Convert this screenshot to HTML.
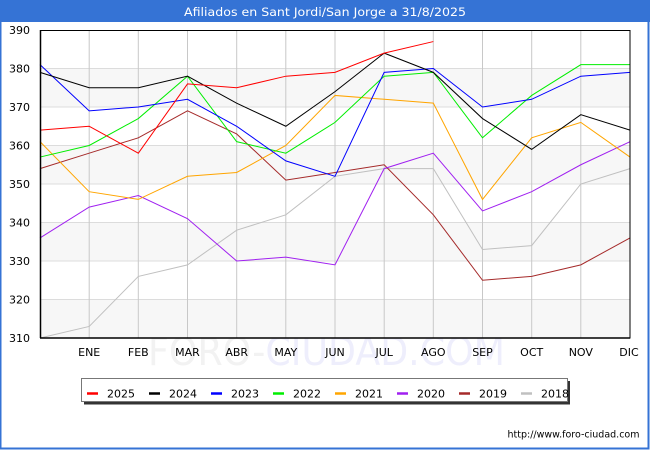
<!DOCTYPE html>
<html><head><meta charset="utf-8"><style>
html,body{margin:0;padding:0;background:#fff;}
svg{display:block;}
text{font-family:"DejaVu Sans","Liberation Sans",sans-serif;}
</style></head><body>
<svg width="650" height="450" viewBox="0 0 650 450" xmlns="http://www.w3.org/2000/svg">
<rect x="0" y="0" width="650" height="450" fill="#fff"/>
<!-- frame -->
<rect x="0.5" y="0.5" width="648" height="448" fill="none" stroke="#3573d5" stroke-width="2"/>
<rect x="0" y="0" width="650" height="22" fill="#3573d5"/>
<text x="325" y="16" text-anchor="middle" font-size="11.5" fill="#fff" textLength="282" lengthAdjust="spacingAndGlyphs">Afiliados en Sant Jordi/San Jorge a 31/8/2025</text>

<!-- watermark -->
<text x="148" y="365" font-size="39" textLength="357" lengthAdjust="spacingAndGlyphs"><tspan fill="#f2f2f2">FORO-</tspan><tspan fill="#eeeefc">CIUDAD.COM</tspan></text>

<!-- bands -->
<rect x="40" y="68.5" width="590" height="38.5" fill="#f7f7f7"/>
<rect x="40" y="145.5" width="590" height="38.5" fill="#f7f7f7"/>
<rect x="40" y="222.5" width="590" height="38.5" fill="#f7f7f7"/>
<rect x="40" y="299.5" width="590" height="38.5" fill="#f7f7f7"/>
<!-- horizontal grid -->
<g stroke="#dcdcdc" stroke-width="1">
<line x1="40" y1="68.5" x2="630" y2="68.5"/>
<line x1="40" y1="107" x2="630" y2="107"/>
<line x1="40" y1="145.5" x2="630" y2="145.5"/>
<line x1="40" y1="184" x2="630" y2="184"/>
<line x1="40" y1="222.5" x2="630" y2="222.5"/>
<line x1="40" y1="261" x2="630" y2="261"/>
<line x1="40" y1="299.5" x2="630" y2="299.5"/>
</g>
<!-- vertical grid -->
<g stroke="#c8c8c8" stroke-width="1">
<line x1="89.2" y1="30" x2="89.2" y2="338"/>
<line x1="138.3" y1="30" x2="138.3" y2="338"/>
<line x1="187.5" y1="30" x2="187.5" y2="338"/>
<line x1="236.7" y1="30" x2="236.7" y2="338"/>
<line x1="285.8" y1="30" x2="285.8" y2="338"/>
<line x1="335" y1="30" x2="335" y2="338"/>
<line x1="384.2" y1="30" x2="384.2" y2="338"/>
<line x1="433.3" y1="30" x2="433.3" y2="338"/>
<line x1="482.5" y1="30" x2="482.5" y2="338"/>
<line x1="531.7" y1="30" x2="531.7" y2="338"/>
<line x1="580.8" y1="30" x2="580.8" y2="338"/>
</g>

<!-- series: data coords (i, value) -->
<g transform="matrix(49.1667 0 0 -3.85 40 1531.5)" fill="none" stroke-width="1">
<polyline vector-effect="non-scaling-stroke" stroke="#c0c0c0" points="0,310 1,313 2,326 3,329 4,338 5,342 6,352 7,354 8,354 9,333 10,334 11,350 12,354"/>
<polyline vector-effect="non-scaling-stroke" stroke="#a52a2a" points="0,354 1,358 2,362 3,369 4,363 5,351 6,353 7,355 8,342 9,325 10,326 11,329 12,336"/>
<polyline vector-effect="non-scaling-stroke" stroke="#a020f0" points="0,336 1,344 2,347 3,341 4,330 5,331 6,329 7,354 8,358 9,343 10,348 11,355 12,361"/>
<polyline vector-effect="non-scaling-stroke" stroke="#ffa500" points="0,361 1,348 2,346 3,352 4,353 5,360 6,373 7,372 8,371 9,346 10,362 11,366 12,357"/>
<polyline vector-effect="non-scaling-stroke" stroke="#00ee00" points="0,357 1,360 2,367 3,378 4,361 5,358 6,366 7,378 8,379 9,362 10,373 11,381 12,381"/>
<polyline vector-effect="non-scaling-stroke" stroke="#0000ff" points="0,381 1,369 2,370 3,372 4,365 5,356 6,352 7,379 8,380 9,370 10,372 11,378 12,379"/>
<polyline vector-effect="non-scaling-stroke" stroke="#000000" points="0,379 1,375 2,375 3,378 4,371 5,365 6,374 7,384 8,379 9,367 10,359 11,368 12,364"/>
<polyline vector-effect="non-scaling-stroke" stroke="#ff0000" points="0,364 1,365 2,358 3,376 4,375 5,378 6,379 7,384 8,387"/>
</g>

<!-- plot border -->
<rect x="40.5" y="30.5" width="589.5" height="307.5" fill="none" stroke="#000" stroke-width="1"/>
<line x1="40" y1="338" x2="630" y2="338" stroke="#000" stroke-width="1.5"/>
<line x1="40.5" y1="30" x2="40.5" y2="338" stroke="#000" stroke-width="1.5"/>

<!-- y labels -->
<g font-size="11" fill="#000" text-anchor="end">
<text x="30" y="34">390</text>
<text x="30" y="72.5">380</text>
<text x="30" y="111">370</text>
<text x="30" y="149.5">360</text>
<text x="30" y="188">350</text>
<text x="30" y="226.5">340</text>
<text x="30" y="265">330</text>
<text x="30" y="303.5">320</text>
<text x="30" y="342">310</text>
</g>
<!-- x labels -->
<g font-size="11" fill="#000" text-anchor="middle">
<text x="89.2" y="356">ENE</text>
<text x="138.3" y="356">FEB</text>
<text x="187.5" y="356">MAR</text>
<text x="236.7" y="356">ABR</text>
<text x="285.8" y="356">MAY</text>
<text x="335" y="356">JUN</text>
<text x="384.2" y="356">JUL</text>
<text x="433.3" y="356">AGO</text>
<text x="482.5" y="356">SEP</text>
<text x="531.7" y="356">OCT</text>
<text x="580.8" y="356">NOV</text>
<text x="629" y="356">DIC</text>
</g>

<!-- legend -->
<rect x="84" y="381" width="486" height="23.5" fill="#333"/>
<rect x="81.5" y="378.5" width="486" height="23" fill="#fff" stroke="#777" stroke-width="1"/>
<g stroke-width="2.5">
<line x1="87" y1="393.5" x2="98" y2="393.5" stroke="#ff0000"/>
<line x1="149" y1="393.5" x2="160" y2="393.5" stroke="#000000"/>
<line x1="211" y1="393.5" x2="222" y2="393.5" stroke="#0000ff"/>
<line x1="273" y1="393.5" x2="284" y2="393.5" stroke="#00ee00"/>
<line x1="335" y1="393.5" x2="346" y2="393.5" stroke="#ffa500"/>
<line x1="397" y1="393.5" x2="408" y2="393.5" stroke="#a020f0"/>
<line x1="459" y1="393.5" x2="470" y2="393.5" stroke="#a52a2a"/>
<line x1="521" y1="393.5" x2="532" y2="393.5" stroke="#c0c0c0"/>
</g>
<g font-size="11" fill="#000">
<text x="107" y="397.5">2025</text>
<text x="169" y="397.5">2024</text>
<text x="231" y="397.5">2023</text>
<text x="293" y="397.5">2022</text>
<text x="355" y="397.5">2021</text>
<text x="417" y="397.5">2020</text>
<text x="479" y="397.5">2019</text>
<text x="541" y="397.5">2018</text>
</g>

<!-- footer -->
<text x="507.5" y="437.5" font-size="9.5" fill="#000" textLength="132" lengthAdjust="spacingAndGlyphs">http://www.foro-ciudad.com</text>
</svg>
</body></html>
